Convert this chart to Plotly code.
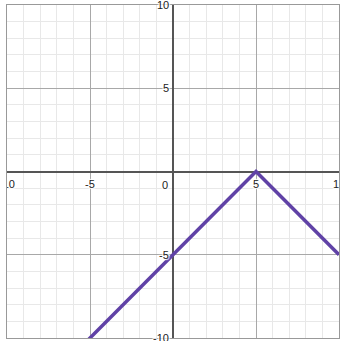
import plotly.graph_objects as go

# y = -|x - 5| sampled at its corners
line_x = [-10, 5, 10]
line_y = [-15, 0, -5]

x_labels = [-10, -5, 5, 10]
y_labels = [10, 5, -5, -10]

halo = "1px 1px 1px white, -1px -1px 1px white, 1px -1px 1px white, -1px 1px 1px white"
lab_font = dict(family="Liberation Sans, Arial", size=11, color="#222222", shadow=halo)

fig = go.Figure()
fig.add_trace(go.Scatter(x=line_x, y=line_y, mode="lines",
                         line=dict(color="#6042a6", width=3.5),
                         hoverinfo="skip", showlegend=False))

# x labels as a text trace so they get clipped at the plot edges
fig.add_trace(go.Scatter(x=x_labels, y=[0] * len(x_labels), mode="markers+text",
                         marker=dict(size=12, color="rgba(0,0,0,0)"),
                         text=[str(v) for v in x_labels],
                         textposition="bottom center", textfont=lab_font,
                         cliponaxis=True, hoverinfo="skip", showlegend=False))

ax = dict(range=[-10, 10], dtick=5, tick0=0, showgrid=True,
          gridcolor="#a8a8a8", gridwidth=1,
          minor=dict(dtick=1, showgrid=True, gridcolor="#e8e8e8", gridwidth=1),
          zeroline=True, zerolinecolor="#555555", zerolinewidth=2,
          showticklabels=False, ticks="", showline=True, linecolor="#999999",
          linewidth=1, mirror=True, fixedrange=True)

fig.update_layout(width=340, height=341, margin=dict(l=7, r=1, t=5, b=3),
                  paper_bgcolor="white", plot_bgcolor="white",
                  xaxis=ax, yaxis=ax)

for v in y_labels:
    fig.add_annotation(x=0, y=v, text=str(v), showarrow=False, xanchor="right",
                       yanchor="middle", xshift=-2, font=lab_font)
fig.add_annotation(x=0, y=0, text="0", showarrow=False, xanchor="right",
                   yanchor="top", xshift=-3, yshift=-5, font=lab_font)

fig.write_html("out.html", config={"displayModeBar": False},
               post_script="document.body.style.margin='0';")
